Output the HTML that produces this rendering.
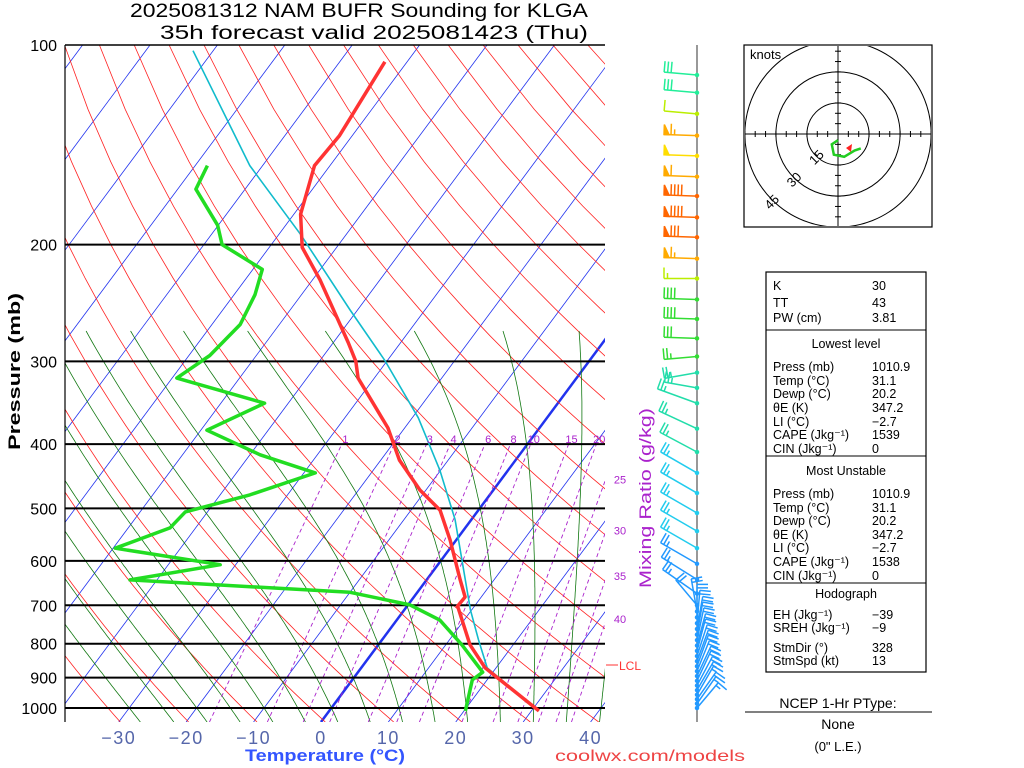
<!DOCTYPE html>
<html><head><meta charset="utf-8"><style>
body{margin:0;background:#fff;width:1024px;height:768px;overflow:hidden;font-family:"Liberation Sans",sans-serif}
svg{position:absolute;left:0;top:0}
</style></head><body>
<svg id="c" width="1024" height="768" font-family="Liberation Sans, sans-serif">
<defs><clipPath id="pc"><rect x="65" y="45" width="540" height="677"/></clipPath>
<clipPath id="hc"><rect x="745" y="46" width="186" height="180"/></clipPath></defs>
<g id="bg" clip-path="url(#pc)"></g>
<g id="pl"></g>
<g id="prof" clip-path="url(#pc)"></g>
<g id="ax"></g>
<g id="wb"></g>
<g id="hodo"></g>
<text x="130" y="17" font-size="19" textLength="458" lengthAdjust="spacingAndGlyphs">2025081312 NAM BUFR Sounding for KLGA</text>
<text x="160" y="39" font-size="19" textLength="428" lengthAdjust="spacingAndGlyphs">35h forecast valid 2025081423 (Thu)</text>
<text x="245" y="761" font-size="17" font-weight="bold" fill="#3355ff" textLength="160" lengthAdjust="spacingAndGlyphs">Temperature (°C)</text>
<text transform="translate(20,450) rotate(-90)" font-size="17" font-weight="bold" textLength="157" lengthAdjust="spacingAndGlyphs">Pressure (mb)</text>
<text transform="translate(651,588) rotate(-90)" font-size="17" fill="#aa22cc" textLength="180" lengthAdjust="spacingAndGlyphs">Mixing Ratio (g/kg)</text>
<text x="555" y="761" font-size="16" fill="#ee4444" textLength="190" lengthAdjust="spacingAndGlyphs">coolwx.com/models</text>
<line x1="606" y1="665" x2="618" y2="665" stroke="#ff3333"/>
<text x="619" y="670" font-size="12" fill="#ff3333">LCL</text>
<g id="tbl" font-size="12.5"></g>
<text x="838" y="708" font-size="14" text-anchor="middle">NCEP 1-Hr PType:</text>
<line x1="745" y1="712" x2="932" y2="712" stroke="#000"/>
<text x="838" y="729" font-size="14" text-anchor="middle">None</text>
<text x="838" y="751" font-size="13" text-anchor="middle">(0" L.E.)</text>
</svg>
<script>
// ---- data ----
const tempP=[1010,870,803,702,680,641,558,503,469,423,378,318,300,281,226,202,180,152,137,106];
const tempT=[31.1,18.4,13.6,7.5,7.6,5.0,-0.9,-5.7,-10.9,-17.2,-22.5,-32.4,-34.6,-37.8,-48.9,-55.1,-59.0,-62.3,-61.9,-63.3];
const dewP=[1010,907,883,803,737,699,669,641,608,574,535,506,477,442,415,381,347,318,294,264,238,218,200,187,165,152];
const dewT=[20.2,17.8,18.5,12.4,6.4,0.3,-10.0,-44.0,-32.3,-49.7,-43.8,-43.3,-35.6,-28.3,-38.5,-49.1,-43.5,-59.3,-56.9,-55.8,-56.9,-58.6,-67.3,-70.1,-77.3,-78.2];
const parcelP=[1010,870,789,711,520,438,365,299,251,193,152,102];
const parcelT=[31.1,18.7,14.3,9.8,-2.4,-10.1,-19.1,-30.4,-41.1,-56.8,-71.9,-93];
const windP=[111,118,127,137,147,158,169,182,195,210,225,242,259,277,295,312,329,347,379,411,442,474,508,541,574,606,640,672,700,715,730,745,760,775,790,805,820,835,850,865,880,895,910,925,940,955,970,985,1000];
const windDir=[275,275,275,272,272,272,272,272,272,272,270,272,272,272,265,260,280,290,295,298,300,300,300,300,300,300,302,305,320,350,0,5,10,10,12,15,15,18,20,20,22,25,25,28,30,30,35,35,40];
const windSpd=[30,30,10,65,50,60,90,90,80,65,15,40,40,30,25,25,25,25,25,25,25,25,25,25,25,25,25,25,20,20,20,20,20,20,20,20,20,20,20,18,18,18,18,18,16,16,15,15,15];
const mixW=[1,2,3,4,6,8,10,15,20,25,30,35,40];
const isoT=[-150,-140,-130,-120,-110,-100,-90,-80,-70,-60,-50,-40,-30,-20,-10,0,10,20,30,40,50];
const tickT=[-30,-20,-10,0,10,20,30,40];
const presTicks=[100,200,300,400,500,600,700,800,900,1000];
const hodoU=[0,-3,-2,3,8,11];
const hodoV=[-3,-5,-10,-11,-8,-7];
// ---- scales ----
const NS='http://www.w3.org/2000/svg';
function Y(p){return 45+663*Math.log10(p/100);}
function X(T,p){return 321+6.74*T+0.743*(722-Y(p));}
function mk(tag,attrs,parent){const e=document.createElementNS(NS,tag);for(const k in attrs)e.setAttribute(k,attrs[k]);parent.appendChild(e);return e;}
const bg=document.getElementById('bg'),pr=document.getElementById('prof'),ax=document.getElementById('ax'),pl=document.getElementById('pl');
function pathFrom(ps,ts){return ps.map((p,i)=>(i?'L':'M')+X(ts[i],p).toFixed(1)+','+Y(p).toFixed(1)).join('');}
isoT.forEach(t=>{const e=mk('line',{x1:X(t,1050),y1:Y(1050),x2:X(t,100),y2:Y(100),stroke:'#2233ee','stroke-width':t===0?2.5:0.8},bg);

});
for(let th=230;th<=560;th+=10){const ps=[],ts=[];for(let p=1050;p>=100;p-=25){ps.push(p);ts.push(th*Math.pow(p/1000,0.286)-273.15);}
const e=mk('path',{d:pathFrom(ps,ts),fill:'none',stroke:'#ff2222','stroke-width':0.8},bg);

}
function es(T){return 6.112*Math.exp(17.67*T/(T+243.5));}
for(let t0=-30;t0<=40;t0+=5){let T=t0+273.15,p=1000;const ps=[],ts=[];
let Tb=T;for(let q=1000;q<1050;q+=5){const rs=0.622*es(Tb-273.15)/(q-es(Tb-273.15));const d=(287*Tb+2.5e6*rs)/(1004+2.5e6*2.5e6*rs*0.622/(287*Tb*Tb))/q;Tb+=d*5;}
T=Tb;for(p=1050;p>=270;p-=5){ps.push(p);ts.push(T-273.15);const rs=0.622*es(T-273.15)/(p-es(T-273.15));const d=(287*T+2.5e6*rs)/(1004+2.5e6*2.5e6*rs*0.622/(287*T*T))/p;T-=d*5;}
const e=mk('path',{d:pathFrom(ps,ts),fill:'none',stroke:'#117711','stroke-width':0.8},bg);

}
function tdw(w,p){const e=w*p/(622+w);const l=Math.log(e/6.112);return 243.5*l/(17.67-l);}
mixW.forEach(w=>{const e=mk('line',{x1:X(tdw(w,1050),1050),y1:Y(1050),x2:X(tdw(w,400),400),y2:Y(400),stroke:'#aa22cc','stroke-width':0.9,'stroke-dasharray':'4,3'},bg);


let lx=X(tdw(w,390),390),ly=Y(390)+6;
if(lx>600){for(let p=400;p<=1050;p+=2){if(X(tdw(w,p),p)<=605){lx=620;ly=Y(p)+4;break;}}}
const t=mk('text',{x:lx,y:ly,'font-size':11,fill:'#aa22cc','text-anchor':'middle'},lx>=620?document.getElementById('c'):ax);t.textContent=w;

});
presTicks.forEach(p=>{const e=mk('line',{x1:65,y1:Y(p),x2:605,y2:Y(p),stroke:'#000','stroke-width':p===100?1.5:2},pl);


const t=mk('text',{x:57,y:Y(p)+6,'font-size':16,'text-anchor':'end'},ax);t.textContent=p;

});
const fr=mk('line',{x1:65,y1:45,x2:65,y2:722,stroke:'#000','stroke-width':1.2},ax);


tickT.forEach(t=>{const x=321+6.74*t;const e=mk('text',{x:x,y:744,'font-size':18,fill:'#5566aa','text-anchor':'middle','letter-spacing':1.5},ax);e.textContent=(t<0?'\u2212'+(-t):t);

});
[[parcelP,parcelT,'#11bbcc',1.6,'parcel-path'],[dewP,dewT,'#22dd22',3.5,'dewpoint-line'],[tempP,tempT,'#ff3333',3.5,'temperature-line']].forEach(a=>{
const e=mk('path',{d:pathFrom(a[0],a[1]),fill:'none',stroke:a[2],'stroke-width':a[3],'stroke-linejoin':'round'},pr);

});
const wb=document.getElementById('wb');
const ax2=mk('line',{x1:697,y1:45,x2:697,y2:722,stroke:'#555','stroke-width':1.2},wb);


function barbColor(p,s){if(p>=600)return '#2299ff';if(p>=430)return '#22ccee';if(p>=300)return '#22ddaa';if(p>=230)return '#33dd33';
if(s>=75)return '#ff6600';if(s>=55)return '#ffaa00';if(s>=40)return '#ffdd00';return s<20?'#bbee00':'#22ee99';}
windP.forEach((p,i)=>{const d=windDir[i]*Math.PI/180,s=windSpd[i];const x0=697,y0=Y(p);
const ux=Math.sin(d),uy=-Math.cos(d);const px=-uy,py=ux;const L=(p>330&&p<700)?42:33;const col=barbColor(p,s);
const g=mk('g',{stroke:col,fill:col,'stroke-width':1.5},wb);


mk('line',{x1:x0,y1:y0,x2:x0+ux*L,y2:y0+uy*L},g);
mk('circle',{cx:x0,cy:y0,r:1.5},g);
let rem=Math.round(s/5)*5,pos=L;
while(rem>=50){const bx=x0+ux*pos,by=y0+uy*pos,bx2=x0+ux*(pos-5),by2=y0+uy*(pos-5);
mk('polygon',{points:`${bx},${by} ${bx+px*10},${by+py*10} ${bx2},${by2}`},g);pos-=7;rem-=50;}
const fl=11;
while(rem>=10){const bx=x0+ux*pos,by=y0+uy*pos;mk('line',{x1:bx,y1:by,x2:bx+px*fl,y2:by+py*fl},g);pos-=3.5;rem-=10;}
if(rem>=5){if(pos===L)pos-=3.5;const bx=x0+ux*pos,by=y0+uy*pos;mk('line',{x1:bx,y1:by,x2:bx+px*fl/2,y2:by+py*fl/2},g);}
});
const h=document.getElementById('hodo');const cx=838,cy=134,k=2.07;
const hb=mk('rect',{x:744,y:45,width:188,height:182,fill:'none',stroke:'#000','stroke-width':1.2},h);


const hg=mk('g',{'clip-path':'url(#hc)'},h);
[15,30,45].forEach(r=>{const c=mk('circle',{cx:cx,cy:cy,r:r*k,fill:'none',stroke:'#000','stroke-width':1},hg);


const t=mk('text',{transform:`translate(${cx-r*k*0.72+4},${cy+r*k*0.72+4}) rotate(-45)`,'font-size':13,'text-anchor':'middle'},h);t.textContent=r;

});
mk('line',{x1:745,y1:cy,x2:931,y2:cy,stroke:'#000'},hg);mk('line',{x1:cx,y1:46,x2:cx,y2:226,stroke:'#000'},hg);
for(let i=-9;i<=9;i++){if(!i)continue;mk('line',{x1:cx+i*10.35,y1:cy-3,x2:cx+i*10.35,y2:cy+3,stroke:'#000'},hg);mk('line',{x1:cx-3,y1:cy+i*10.35,x2:cx+3,y2:cy+i*10.35,stroke:'#000'},hg);}
const kn=mk('text',{x:750,y:59,'font-size':13},h);kn.textContent='knots';


const hp=mk('polyline',{points:hodoU.map((u,i)=>(cx+u*k)+','+(cy-hodoV[i]*k)).join(' '),fill:'none',stroke:'#22cc22','stroke-width':2.5},h);


const sm=mk('polygon',{points:`${cx+8},${cy+14} ${cx+14},${cy+10} ${cx+13},${cy+18}`,fill:'#ff2222'},h);


const tb=document.getElementById('tbl');
const tr=mk('rect',{x:766,y:272,width:160,height:400,fill:'none',stroke:'#000','stroke-width':1.2},tb);


[330,456,583].forEach(y=>mk('line',{x1:766,y1:y,x2:926,y2:y,stroke:'#000'},tb));
const rows=[[285,'K','30'],[302,'TT','43'],[317,'PW (cm)','3.81'],[343,'Lowest level',null],
[366,'Press (mb)','1010.9'],[380,'Temp (°C)','31.1'],[393,'Dewp (°C)','20.2'],[407,'θE (K)','347.2'],[421,'LI (°C)','\u22122.7'],[434,'CAPE (Jkg\u207B\u00B9)','1539'],[448,'CIN (Jkg\u207B\u00B9)','0'],
[470,'Most Unstable',null],[493,'Press (mb)','1010.9'],[507,'Temp (°C)','31.1'],[520,'Dewp (°C)','20.2'],[534,'θE (K)','347.2'],[547,'LI (°C)','\u22122.7'],[561,'CAPE (Jkg\u207B\u00B9)','1538'],[575,'CIN (Jkg\u207B\u00B9)','0'],
[593,'Hodograph',null],[614,'EH (Jkg\u207B\u00B9)','\u221239'],[627,'SREH (Jkg\u207B\u00B9)','\u22129'],[647,'StmDir (°)','328'],[660,'StmSpd (kt)','13']];
rows.forEach(r=>{const y=r[0]+5;const t=mk('text',r[2]===null?{x:846,y:y,'text-anchor':'middle'}:{x:773,y:y},tb);t.textContent=r[1];


if(r[2]!==null){const v=mk('text',{x:872,y:y},tb);v.textContent=r[2];

}});
</script>
</body></html>
